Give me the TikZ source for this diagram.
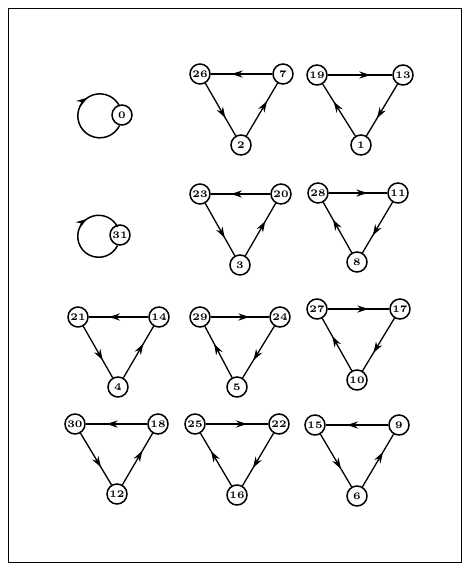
\documentclass[tikz,border=0pt]{standalone}
\usetikzlibrary{arrows.meta, decorations.markings}

\begin{document}
\begin{tikzpicture}[
    x=0.5pt, y=-0.5pt,
    state/.style={circle, draw, line width=0.75pt, minimum size=10pt, inner sep=0pt, fill=white, font=\fontsize{5}{5}\selectfont\bfseries},
    link/.style={line width=0.65pt, postaction={decorate}, decoration={markings, mark=at position 0.66 with {\arrow{Stealth[length=5.5pt, width=3.6pt]}}}},
    selfloop/.style={line width=0.75pt, postaction={decorate}, decoration={markings, mark=at position 0.68 with {\arrow{Stealth[length=5.5pt, width=3.6pt]}}}}
]
\useasboundingbox (0,0) rectangle (469,569);
\draw[line width=0.5pt] (8,8) rectangle (461,562);

% fixed points
\node[state] (s0)  at (122,115) {0};
\node[state] (s31) at (120,235) {31};
\draw[selfloop] (s0.257) arc[start angle=-26, end angle=-334, radius=11pt];
\draw[selfloop] (s31.257) arc[start angle=-26, end angle=-334, radius=10.5pt];

% row 1
\node[state] (s26) at (200,74)  {26};
\node[state] (s7)  at (283,74)  {7};
\node[state] (s2)  at (241,145) {2};
\node[state] (s19) at (317,75)  {19};
\node[state] (s13) at (403,75)  {13};
\node[state] (s1)  at (361,145) {1};

% row 2
\node[state] (s23) at (200,194) {23};
\node[state] (s20) at (281,194) {20};
\node[state] (s3)  at (240,265) {3};
\node[state] (s28) at (318,193) {28};
\node[state] (s11) at (398,193) {11};
\node[state] (s8)  at (357,262) {8};

% row 3
\node[state] (s21) at (78,317)  {21};
\node[state] (s14) at (159,317) {14};
\node[state] (s4)  at (118,387) {4};
\node[state] (s29) at (200,317) {29};
\node[state] (s24) at (280,317) {24};
\node[state] (s5)  at (237,387) {5};
\node[state] (s27) at (317,309) {27};
\node[state] (s17) at (400,309) {17};
\node[state] (s10) at (357,380) {10};

% row 4
\node[state] (s30) at (75,424)  {30};
\node[state] (s18) at (158,424) {18};
\node[state] (s12) at (117,494) {12};
\node[state] (s25) at (195,424) {25};
\node[state] (s22) at (279,424) {22};
\node[state] (s16) at (237,495) {16};
\node[state] (s15) at (315,425) {15};
\node[state] (s9)  at (399,425) {9};
\node[state] (s6)  at (357,496) {6};

\path
    (s7) edge[link] (s26)  (s26) edge[link] (s2)  (s2) edge[link] (s7)
    (s19) edge[link] (s13) (s13) edge[link] (s1)  (s1) edge[link] (s19)
    (s20) edge[link] (s23) (s23) edge[link] (s3)  (s3) edge[link] (s20)
    (s28) edge[link] (s11) (s11) edge[link] (s8)  (s8) edge[link] (s28)
    (s14) edge[link] (s21) (s21) edge[link] (s4)  (s4) edge[link] (s14)
    (s29) edge[link] (s24) (s24) edge[link] (s5)  (s5) edge[link] (s29)
    (s27) edge[link] (s17) (s17) edge[link] (s10) (s10) edge[link] (s27)
    (s18) edge[link] (s30) (s30) edge[link] (s12) (s12) edge[link] (s18)
    (s25) edge[link] (s22) (s22) edge[link] (s16) (s16) edge[link] (s25)
    (s9) edge[link] (s15)  (s15) edge[link] (s6)  (s6) edge[link] (s9);
\end{tikzpicture}
\end{document}
